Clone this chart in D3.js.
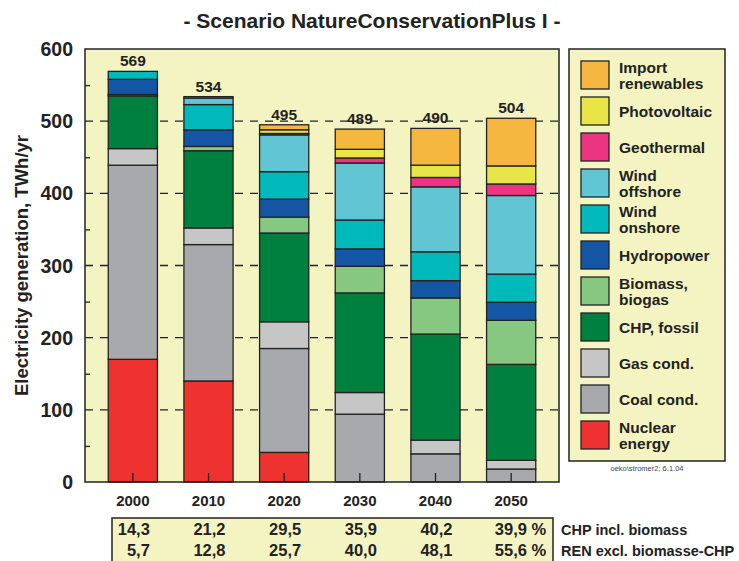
<!DOCTYPE html>
<html>
<head>
<meta charset="utf-8">
<script src="https://cdn.jsdelivr.net/npm/d3@7"></script>
<style>
    body { margin: 0; background: #fff; }
    svg { font-family: 'Liberation Sans', Arial, sans-serif; font-weight: bold; }
</style>
</head>
<body>
<div id="chart"></div>
<script>
// data (TWh/yr)
const years = ['2000', '2010', '2020', '2030', '2040', '2050']
const totals = [569, 534, 495, 489, 490, 504]
const nuclear = [170, 140, 41, 0, 0, 0]
const coal = [269, 189, 144, 94, 39, 18]
const gas = [23, 23, 37, 30, 19, 12]
const chpFossil = [73, 107, 123, 138, 147, 133]
const biomass = [2, 6, 22, 37, 50, 61]
const hydro = [21, 23, 25, 24, 24, 25]
const windOnshore = [11, 35, 38, 40, 40, 39]
const windOffshore = [0, 9, 51, 79, 90, 109]
const geothermal = [0, 0, 2, 7, 13, 16]
const photovoltaic = [0, 2, 5, 12, 17, 25]
const importRen = [0, 0, 7, 28, 51, 66]
const chpShare = [14.3, 21.2, 29.5, 35.9, 40.2, 39.9]
const renShare = [5.7, 12.8, 25.7, 40.0, 48.1, 55.6]
const yTicks = [0, 100, 200, 300, 400, 500, 600]

// stack order bottom -> top
const series = [
    {key: 'nuclear', label: ['Nuclear', 'energy'], values: nuclear, color: '#ee3230'},
    {key: 'coal', label: ['Coal cond.'], values: coal, color: '#a8a9ad'},
    {key: 'gas', label: ['Gas cond.'], values: gas, color: '#c6c6c6'},
    {key: 'chp', label: ['CHP, fossil'], values: chpFossil, color: '#00803e'},
    {key: 'biomass', label: ['Biomass,', 'biogas'], values: biomass, color: '#86c781'},
    {key: 'hydro', label: ['Hydropower'], values: hydro, color: '#1556a4'},
    {key: 'onshore', label: ['Wind', 'onshore'], values: windOnshore, color: '#00b9ba'},
    {key: 'offshore', label: ['Wind', 'offshore'], values: windOffshore, color: '#61c5d3'},
    {key: 'geo', label: ['Geothermal'], values: geothermal, color: '#ec3580'},
    {key: 'pv', label: ['Photovoltaic'], values: photovoltaic, color: '#e8e549'},
    {key: 'import', label: ['Import', 'renewables'], values: importRen, color: '#f5b73f'}
]

const W = 739, H = 561
const bg = '#f4f4c2', ink = '#222'
const plot = {left: 85, right: 559, top: 49, bottom: 482}

const table = years.map((y, i) => {
    const row = {year: y}
    series.forEach(s => { row[s.key] = s.values[i] })
    return row
})

const svg = d3.select('#chart').append('svg')
    .attr('width', W)
    .attr('height', H)

const x = d3.scaleBand()
    .domain(years)
    .range([95, 549])
    .paddingInner(0.35)
    .paddingOuter(0.175)
const y = d3.scaleLinear()
    .domain([0, 600])
    .range([plot.bottom, plot.top])

// title
svg.append('text')
    .attr('x', 372)
    .attr('y', 28)
    .attr('text-anchor', 'middle')
    .attr('font-size', 21)
    .attr('fill', ink)
    .text('- Scenario NatureConservationPlus I -')

// plot background
svg.append('rect')
    .attr('x', plot.left)
    .attr('y', plot.top)
    .attr('width', plot.right - plot.left)
    .attr('height', plot.bottom - plot.top)
    .attr('fill', bg)

// dashed grid
svg.append('g')
    .selectAll('line')
    .data(yTicks.filter(d => d > 0 && d < 600))
    .join('line')
    .attr('x1', plot.left)
    .attr('x2', plot.right)
    .attr('y1', d => y(d))
    .attr('y2', d => y(d))
    .attr('stroke', ink)
    .attr('stroke-width', 1.3)
    .attr('stroke-dasharray', '8,7')

// bars
const stack = d3.stack().keys(series.map(s => s.key))(table)
const color = d3.scaleOrdinal().domain(series.map(s => s.key)).range(series.map(s => s.color))
svg.append('g')
    .selectAll('g')
    .data(stack)
    .join('g')
    .attr('fill', d => color(d.key))
    .selectAll('rect')
    .data(d => d.filter(p => p[1] > p[0]))
    .join('rect')
    .attr('x', d => x(d.data.year))
    .attr('y', d => y(d[1]))
    .attr('width', x.bandwidth())
    .attr('height', d => y(d[0]) - y(d[1]))
    .attr('stroke', ink)
    .attr('stroke-width', 1.3)

// totals
svg.append('g')
    .selectAll('text')
    .data(years)
    .join('text')
    .attr('x', d => x(d) + x.bandwidth() / 2)
    .attr('y', (d, i) => y(totals[i]) - 5)
    .attr('text-anchor', 'middle')
    .attr('font-size', 15.5)
    .attr('fill', ink)
    .text((d, i) => totals[i])

// plot frame
svg.append('rect')
    .attr('x', plot.left)
    .attr('y', plot.top)
    .attr('width', plot.right - plot.left)
    .attr('height', plot.bottom - plot.top)
    .attr('fill', 'none')
    .attr('stroke', ink)
    .attr('stroke-width', 1.5)

// y axis: labels outside, ticks inside
const yAxis = svg.append('g')
    .attr('transform', `translate(${plot.left},0)`)
    .call(d3.axisRight(y).tickValues(d3.range(50, 600, 100)).tickSize(5).tickFormat(''))
yAxis.select('.domain').remove()
yAxis.selectAll('line').attr('stroke', ink).attr('stroke-width', 1.3)
svg.append('g')
    .selectAll('text')
    .data(yTicks)
    .join('text')
    .attr('x', 73)
    .attr('y', d => y(d) + 7)
    .attr('text-anchor', 'end')
    .attr('font-size', 19.5)
    .attr('fill', ink)
    .text(d => d)

svg.append('text')
    .attr('transform', `translate(28,${(plot.top + plot.bottom) / 2}) rotate(-90)`)
    .attr('text-anchor', 'middle')
    .attr('font-size', 18.5)
    .attr('fill', ink)
    .text('Electricity generation, TWh/yr')

// x axis: small ticks inside, year labels below
const xAxis = svg.append('g')
    .attr('transform', `translate(0,${plot.bottom})`)
    .call(d3.axisTop(x).tickSize(9).tickFormat(''))
xAxis.select('.domain').remove()
xAxis.selectAll('line').attr('stroke', ink).attr('stroke-width', 1.3)
svg.append('g')
    .selectAll('text')
    .data(years)
    .join('text')
    .attr('x', d => x(d) + x.bandwidth() / 2)
    .attr('y', 506)
    .attr('text-anchor', 'middle')
    .attr('font-size', 15)
    .attr('fill', ink)
    .text(d => d)

// legend
const legend = svg.append('g')
legend.append('rect')
    .attr('x', 569)
    .attr('y', 49)
    .attr('width', 156)
    .attr('height', 412)
    .attr('fill', bg)
    .attr('stroke', ink)
    .attr('stroke-width', 1.5)
const ly = d3.scaleLinear().domain([0, series.length - 1]).range([61, 421])
const legendItems = series.slice().reverse()
const cell = legend.selectAll('g.cell')
    .data(legendItems)
    .join('g')
    .attr('class', 'cell')
    .attr('transform', (d, i) => `translate(581,${ly(i)})`)
cell.append('rect')
    .attr('width', 28)
    .attr('height', 28)
    .attr('fill', d => d.color)
    .attr('stroke', ink)
    .attr('stroke-width', 1.3)
cell.append('text')
    .attr('font-size', 15.5)
    .attr('fill', ink)
    .selectAll('tspan')
    .data(d => d.label.map((t, j) => ({t, j, n: d.label.length})))
    .join('tspan')
    .attr('x', 38)
    .attr('y', d => 14 + 5.5 + (d.j - (d.n - 1) / 2) * 16)
    .text(d => d.t)

svg.append('text')
    .attr('x', 647)
    .attr('y', 471)
    .attr('text-anchor', 'middle')
    .attr('font-size', 7.5)
    .attr('font-weight', 'normal')
    .attr('fill', '#444')
    .text('oeko\\stromer2; 6.1.04')

// share table below
svg.append('rect')
    .attr('x', 112)
    .attr('y', 518)
    .attr('width', 441)
    .attr('height', 50)
    .attr('fill', bg)
    .attr('stroke', ink)
    .attr('stroke-width', 1.5)
const fmt = v => d3.format('.1f')(v).replace('.', ',')
const rows = [
    {name: 'CHP incl. biomass', values: chpShare, ty: 535},
    {name: 'REN excl. biomasse-CHP', values: renShare, ty: 556}
]
rows.forEach(r => {
    svg.append('g')
        .selectAll('text')
        .data(years)
        .join('text')
        .attr('x', d => x(d) + x.bandwidth() / 2 + (d === '2050' ? 35 : 17))
        .attr('y', r.ty)
        .attr('text-anchor', 'end')
        .attr('font-size', 16.5)
        .attr('fill', ink)
        .text((d, i) => fmt(r.values[i]) + (d === '2050' ? ' %' : ''))
    svg.append('text')
        .attr('x', 561)
        .attr('y', r.ty)
        .attr('font-size', 14.5)
        .attr('fill', ink)
        .text(r.name)
})
</script>
</body>
</html>
